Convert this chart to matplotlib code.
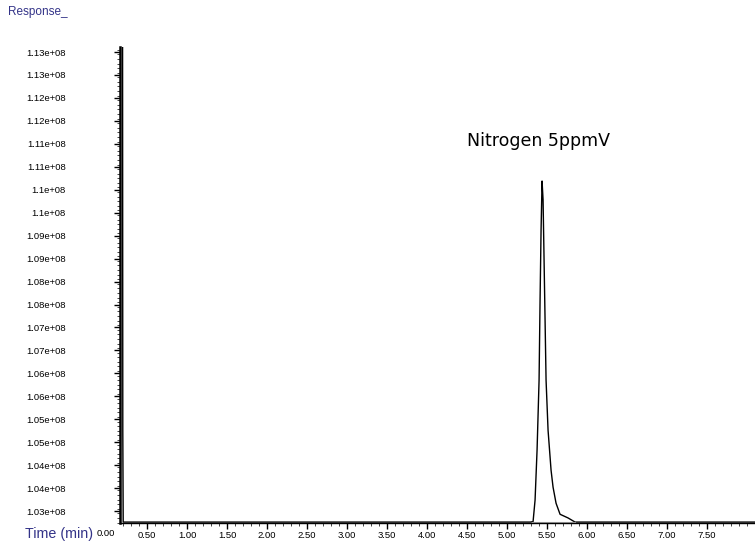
import numpy as np
import matplotlib
matplotlib.use("Agg")
import matplotlib.pyplot as plt
from matplotlib.ticker import FixedLocator, MultipleLocator, FormatStrFormatter

# chromatogram trace (time in min, response)
time_min = [0.19, 0.195, 0.20, 2.0, 4.0, 5.29, 5.325, 5.35, 5.375, 5.40, 5.4125,
            5.425, 5.4375, 5.45, 5.4625, 5.4875, 5.5125, 5.55, 5.575, 5.6125,
            5.6625, 5.7625, 5.85, 6.5, 7.5, 8.1]
response = [1.20e8, 1.05e8, 1.0301e8, 1.0301e8, 1.0301e8, 1.0301e8, 1.0302e8,
            1.0349e8, 1.0458e8, 1.0610e8, 1.0785e8, 1.0937e8, 1.1044e8, 1.1003e8,
            1.0872e8, 1.0610e8, 1.0501e8, 1.0414e8, 1.0377e8, 1.0342e8, 1.0318e8,
            1.0310e8, 1.0301e8, 1.0301e8, 1.0301e8, 1.0301e8]

# integration baseline under the peak
base_time = [5.31, 5.85]
base_resp = [1.0301e8, 1.0301e8]

y_ticks = [1.0325e8 + 5e5 * i for i in range(21)]
x_ticks = [0.5, 1.0, 1.5, 2.0, 2.5, 3.0, 3.5, 4.0, 4.5, 5.0, 5.5, 6.0, 6.5, 7.0, 7.5]

peak_label = "Nitrogen 5ppmV"
label_pos = (4.5, 1.1131e8)

blue = "#333388"
plt.rcParams['font.family'] = ['Liberation Sans', 'DejaVu Sans']

fig = plt.figure(figsize=(7.55, 5.44), dpi=100)
ax = fig.add_axes([120 / 755, 21 / 544, 1 - 120 / 755, (523 - 47) / 544])

ax.plot(time_min, response, color="black", lw=1.0)
ax.plot(base_time, base_resp, color="#aaaaaa", lw=0.8)

ax.set_xlim(0.16, 8.1)
ax.set_ylim(1.0299e8, 1.1336e8)

ax.spines['top'].set_visible(False)
ax.spines['right'].set_visible(False)
ax.spines['left'].set_linewidth(1.8)
ax.spines['bottom'].set_linewidth(1.0)

ax.yaxis.set_major_locator(FixedLocator(y_ticks))
ax.yaxis.set_minor_locator(MultipleLocator(1e5))
ax.yaxis.set_major_formatter(FormatStrFormatter('%.3g'))
ax.xaxis.set_major_locator(FixedLocator(x_ticks))
ax.xaxis.set_minor_locator(MultipleLocator(0.1))
ax.xaxis.set_major_formatter(FormatStrFormatter('%.2f'))

ax.tick_params(axis='y', which='major', length=4, width=1, labelsize=6.8, pad=35)
ax.tick_params(axis='y', which='minor', length=2, width=0.7, color="#444444")
ax.tick_params(axis='x', which='major', length=4, width=1, labelsize=6.8, pad=2)
ax.tick_params(axis='x', which='minor', length=2, width=0.7, color="#444444")

ax.text(label_pos[0], label_pos[1], peak_label, fontsize=12.5, va='center', ha='left',
        family=['DejaVu Sans'])

fig.text(8 / 755, 1 - 12 / 544, "Response_", color=blue, fontsize=8.5, va='center', ha='left')
fig.text(25 / 755, 1 - 534 / 544, "Time (min)", color=blue, fontsize=10.3, va='center', ha='left')
fig.text(106 / 755, 1 - 534 / 544, "0.00", fontsize=6.8, va='center', ha='center')

fig.savefig("out.png", dpi=100)
